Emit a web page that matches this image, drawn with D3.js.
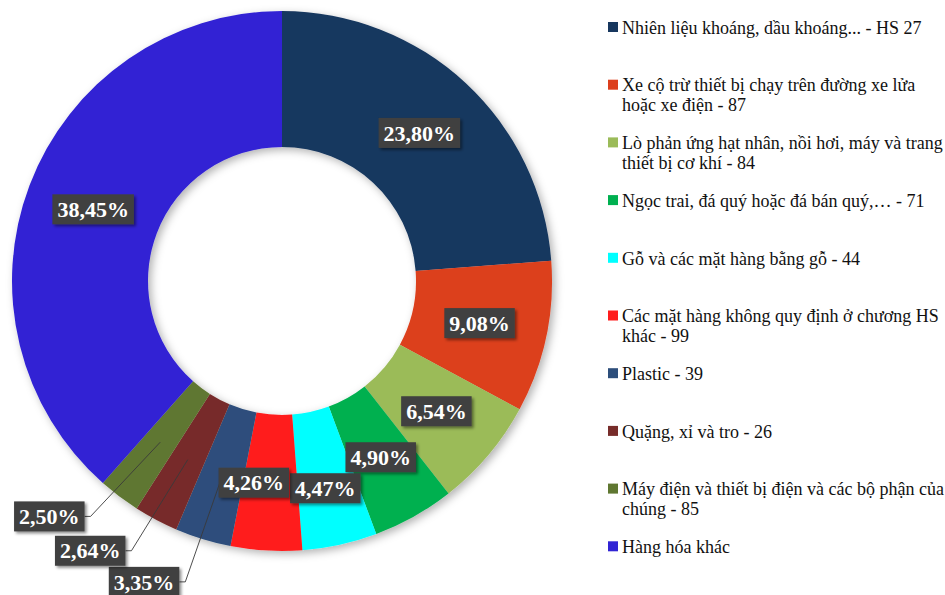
<!DOCTYPE html>
<html>
<head>
<meta charset="utf-8">
<script src="https://cdn.jsdelivr.net/npm/d3@7"></script>
<style>
  body { margin: 0; background: #fff; }
  svg { display: block; }
  svg text { font-family: 'Liberation Serif', 'Times New Roman', Times, 'DejaVu Serif', serif; }
</style>
</head>
<body>
<svg class="chart" width="945" height="595"></svg>
<script>
/****************************************************************
    Data
/****************************************************************/
const categories = [
  'Nhiên liệu khoáng, dầu khoáng... - HS 27',
  'Xe cộ trừ thiết bị chạy trên đường xe lửa hoặc xe điện - 87',
  'Lò phản ứng hạt nhân, nồi hơi, máy và trang thiết bị cơ khí - 84',
  'Ngọc trai, đá quý hoặc đá bán quý,… - 71',
  'Gỗ và các mặt hàng bằng gỗ - 44',
  'Các mặt hàng không quy định ở chương HS khác - 99',
  'Plastic - 39',
  'Quặng, xỉ và tro - 26',
  'Máy điện và thiết bị điện và các bộ phận của chúng - 85',
  'Hàng hóa khác'
]
const shares = [23.80, 9.08, 6.54, 4.90, 4.47, 4.26, 3.35, 2.64, 2.50, 38.45]
const colors = [
  '#17375e', '#dc3f1d', '#9bbb59', '#00b050', '#00ffff',
  '#ff1d1d', '#2d4e7b', '#772c2a', '#5f7731', '#3124d4'
]

/****************************************************************
    Constant settings
/****************************************************************/
const settings = {
  cx: 282, //center of the donut
  cy: 281,
  outerR: 270, //outer radius of the ring
  innerR: 134, //radius of the hole
  outsideLimit: 4, //slices below this share get their label outside
  outsideR: 331, //radius where the outside labels sit
  outsideTurn: 7.6, //degrees the outside labels are turned clockwise
  boxH: 30, //height of a value label box
  boxPad: 5, //padding left and right of the label text
  labelFont: 22,
  legendX: 608, //x of the legend squares
  legendY: 28, //y of the first legend line
  legendStep: 57.7, //space between legend entries
  legendLine: 20, //line height of wrapped legend text
  legendFont: 18,
  legendWrap: 322 //max width of one legend line
}

const svg = d3.select('.chart')
const fmt = v => v.toFixed(2).replace('.', ',') + '%'

/****************************************************************
    Shadows
/****************************************************************/
const defs = svg.append('defs')
defs.append('filter').attr('id', 'ringShadow')
  .attr('x', '-20%').attr('y', '-20%').attr('width', '140%').attr('height', '140%')
  .append('feDropShadow')
  .attr('dx', 3).attr('dy', 3).attr('stdDeviation', 4)
  .attr('flood-color', '#000').attr('flood-opacity', 0.3)
defs.append('filter').attr('id', 'boxShadow')
  .attr('x', '-20%').attr('y', '-20%').attr('width', '150%').attr('height', '160%')
  .append('feDropShadow')
  .attr('dx', 2).attr('dy', 2).attr('stdDeviation', 1.5)
  .attr('flood-color', '#000').attr('flood-opacity', 0.45)

/****************************************************************
    The donut
/****************************************************************/
const pie = d3.pie().sort(null).value(d => d)
const slices = pie(shares)
const arc = d3.arc().innerRadius(settings.innerR).outerRadius(settings.outerR)

const ring = svg.append('g')
  .attr('transform', `translate(${settings.cx},${settings.cy})`)
  .attr('filter', 'url(#ringShadow)')

ring.selectAll('path')
  .data(slices)
  .join('path')
  .attr('d', arc)
  .attr('fill', (d, i) => colors[i])

/****************************************************************
    Value labels: inside at the centroid, small ones outside with a leader line
/****************************************************************/
const labels = svg.append('g')
  .attr('transform', `translate(${settings.cx},${settings.cy})`)

// measure the text widths first
const probe = labels.append('text')
  .style('font-weight', 'bold')
  .style('font-size', settings.labelFont + 'px')
let placed = slices.map((d, i) => {
  probe.text(fmt(d.value))
  const w = probe.node().getComputedTextLength() + settings.boxPad * 2
  const [x, y] = arc.centroid(d)
  const outside = d.value < settings.outsideLimit
  let lx = x, ly = y
  if (outside) {
    const a = (d.startAngle + d.endAngle) / 2 + settings.outsideTurn * Math.PI / 180
    lx = settings.outsideR * Math.sin(a)
    ly = -settings.outsideR * Math.cos(a)
  }
  return { i, value: d.value, w, h: settings.boxH, x: lx, y: ly, ax: x, ay: y, outside }
})
probe.remove()

// push inside labels apart along the shorter overlap
const inside = placed.filter(p => !p.outside)
for (let k = 1; k < inside.length; k++) {
  for (let j = 0; j < k; j++) {
    const a = inside[j], b = inside[k]
    const ox = (a.w + b.w) / 2 + 1 - Math.abs(a.x - b.x)
    const oy = (a.h + b.h) / 2 + 1 - Math.abs(a.y - b.y)
    if (ox > 0 && oy > 0) {
      if (ox < oy) b.x += b.x < a.x ? -ox : ox
      else b.y += b.y < a.y ? -oy : oy
    }
  }
}

// leader lines
labels.selectAll('path.leader')
  .data(placed.filter(p => p.outside))
  .join('path')
  .attr('class', 'leader')
  .attr('d', p => {
    const ex = p.x + p.w / 2
    return `M${ex},${p.y}L${ex + 6},${p.y}L${p.ax},${p.ay}`
  })
  .attr('fill', 'none')
  .attr('stroke', '#3a3a3a')
  .attr('stroke-width', 0.9)

const box = labels.selectAll('g.box')
  .data(placed)
  .join('g')
  .attr('class', 'box')
  .attr('transform', p => `translate(${p.x},${p.y})`)

box.append('rect')
  .attr('x', p => -p.w / 2)
  .attr('y', p => -p.h / 2)
  .attr('width', p => p.w)
  .attr('height', p => p.h)
  .attr('fill', '#404040')
  .attr('filter', 'url(#boxShadow)')

box.append('text')
  .attr('text-anchor', 'middle')
  .attr('dy', '0.35em')
  .style('font-weight', 'bold')
  .style('font-size', settings.labelFont + 'px')
  .attr('fill', '#fff')
  .text(p => fmt(p.value))

/****************************************************************
    Legend, text wrapped to a max width
/****************************************************************/
const legend = svg.append('g')
const item = legend.selectAll('g')
  .data(categories)
  .join('g')
  .attr('transform', (d, i) => `translate(${settings.legendX},${settings.legendY + i * settings.legendStep})`)

item.append('rect')
  .attr('x', 0)
  .attr('y', -6)
  .attr('width', 10)
  .attr('height', 10)
  .attr('fill', (d, i) => colors[i])

item.append('text')
  .style('font-size', settings.legendFont + 'px')
  .attr('fill', '#111')
  .each(function (d) {
    const text = d3.select(this)
    const words = d.split(' ')
    let line = []
    let n = 0
    const newLine = () => text.append('tspan')
      .attr('x', 14)
      .attr('y', n * settings.legendLine)
      .attr('dy', '0.32em')
    let tspan = newLine()
    words.forEach(word => {
      line.push(word)
      tspan.text(line.join(' '))
      if (tspan.node().getComputedTextLength() > settings.legendWrap && line.length > 1) {
        line.pop()
        tspan.text(line.join(' '))
        line = [word]
        n++
        tspan = newLine().text(word)
      }
    })
  })
</script>
</body>
</html>
